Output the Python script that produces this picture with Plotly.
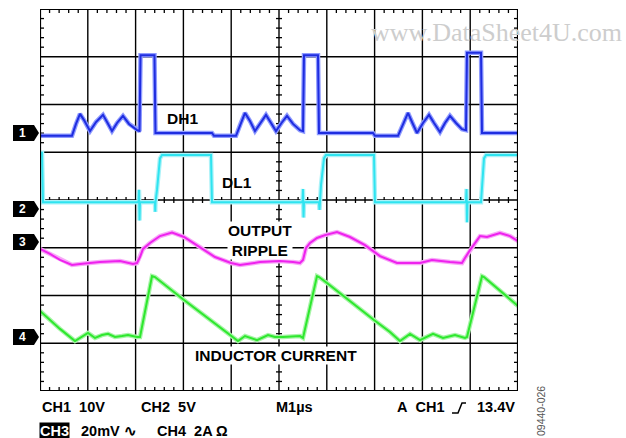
import plotly.graph_objects as go

# ---------------- data (time in µs, 1 µs/div) ----------------
# CH1  DH1 gate drive (V), 10 V/div
dh1_t = [0, 0.669, 0.753, 0.837, 0.921, 1.046, 1.172, 1.318, 1.402, 1.506, 1.611, 1.736, 1.862, 2.029,
         2.082, 2.103, 2.395, 2.416, 3.598, 3.640, 4.100, 4.195, 4.289, 4.393, 4.498, 4.613, 4.728, 4.833,
         4.937, 5.052, 5.167, 5.293, 5.439, 5.502, 5.523, 5.816, 5.837, 6.967, 7.008, 7.490, 7.594, 7.699,
         7.782, 7.887, 8.013, 8.138, 8.243, 8.368, 8.473, 8.577, 8.703, 8.828, 8.912, 8.933, 9.226, 9.247, 10.0]
dh1_v = [-0.6, -0.6, 1.9, 4.0, 2.7, 0.4, 2.3, 3.8, 2.3, 0.4, 2.1, 3.6, 1.9, 0.6,
         0.4, 16.3, 16.3, 0.0, 0.0, -0.6, -0.6, 1.9, 4.2, 2.5, 0.4, 2.1, 3.8, 2.1,
         0.4, 2.1, 3.6, 1.9, 0.6, 0.4, 16.3, 16.3, 0.0, 0.0, -0.6, -0.6, 1.9, 4.2,
         2.3, 0.0, 2.1, 3.8, 2.1, 0.2, 2.1, 3.6, 2.1, 0.8, 0.6, 16.8, 16.8, 0.0, 0.0]

# CH2  DL1 gate drive (V), 5 V/div
dl1_t = [0, 0.042, 0.063, 2.061, 2.071, 2.082, 2.092, 2.406, 2.411, 2.416, 2.448, 2.510, 2.552, 3.577,
         3.598, 5.492, 5.502, 5.513, 5.523, 5.837, 5.847, 5.858, 5.879, 5.941, 5.983, 6.987, 7.008,
         8.912, 8.923, 8.933, 8.943, 9.226, 9.247, 9.289, 9.331, 10.0]
dl1_v = [5.9, 5.9, 0.7, 0.7, 2.0, -1.2, 0.7, 0.7, -0.3, 0.7, 2.0, 5.3, 5.65, 5.65,
         0.7, 0.7, 2.1, -0.9, 0.7, 0.7, -0.1, 0.7, 2.5, 5.3, 5.65, 5.65, 0.7,
         0.7, 2.1, -1.4, 0.7, 0.7, 2.0, 5.3, 5.65, 5.65]

# CH3  output ripple (mV), 20 mV/div, AC coupled
rip_t = [0, 0.209, 0.418, 0.669, 0.837, 1.004, 1.255, 1.674, 1.946, 2.029, 2.092, 2.155, 2.301, 2.510,
         2.762, 3.013, 3.347, 3.661, 3.996, 4.184, 4.603, 5.021, 5.293, 5.439, 5.502, 5.565, 5.649,
         5.795, 5.962, 6.213, 6.485, 6.799, 7.113, 7.469, 7.950, 8.201, 8.577, 8.828, 8.891, 8.996,
         9.205, 9.351, 9.623, 9.833, 10.0]
rip_v = [-2.9, -5.0, -7.5, -9.6, -9.2, -8.8, -8.4, -8.0, -9.2, -8.8, -6.3, -2.9, -0.4, 2.5,
         4.0, 2.1, -2.1, -6.3, -8.8, -9.6, -8.4, -8.0, -8.4, -8.8, -7.5, -2.5, -0.4,
         1.7, 2.9, 4.2, 2.1, -1.3, -5.9, -8.8, -8.8, -7.5, -8.4, -8.8, -6.7, -3.4,
         2.5, 2.1, 3.8, 2.5, 0.4]

# CH4  inductor current (A), 2 A/div
ind_t = [0, 0.209, 0.418, 0.732, 0.837, 1.004, 1.151, 1.297, 1.423, 1.569, 1.715, 1.841, 2.029, 2.092,
         2.343, 2.406, 3.013, 3.996, 4.142, 4.289, 4.393, 4.540, 4.770, 4.916, 5.084, 5.439, 5.502,
         5.795, 5.837, 6.004, 6.987, 7.322, 7.531, 7.741, 7.950, 8.222, 8.431, 8.682, 8.891, 8.933,
         9.247, 9.289, 10.0]
ind_v = [1.09, 0.71, 0.34, -0.17, -0.04, 0.17, -0.04, 0.08, 0.13, 0.0, 0.04, 0.08, 0.0, 0.0,
         2.55, 2.51, 1.55, 0.04, -0.17, 0.04, -0.04, -0.13, 0.08, 0.0, 0.0, 0.04, -0.04,
         2.55, 2.51, 2.26, 0.71, 0.21, -0.17, 0.13, -0.13, 0.13, -0.04, 0.08, -0.04, 0.0,
         2.55, 2.51, 1.30]

channel_names = ["1", "2", "3", "4"]
channel_scale = [10.0, 5.0, 20.0, 2.0]          # units per division
channel_offset = [1.403, -0.188, -0.880, -2.869]  # ground marker position (div from centre)

channel_labels = ["DH1", "DL1", "OUTPUT<br>RIPPLE", "INDUCTOR CURRENT"]
bottom_line1 = ["CH1\u00a0\u00a010V", "CH2\u00a0\u00a05V", "M1µs", "A\u00a0\u00a0CH1", "13.4V"]
bottom_line2 = ["CH3", "20mV \u223f", "CH4\u00a0\u00a02A Ω"]
watermark = "www.DataSheet4U.com"
figure_id = "09440-026"

# ---------------- helpers ----------------
W, H = 626, 438
L, R, T, B = 40, 108, 9, 47
PW, PH = W - L - R, H - T - B


def px(x):
    return (x - L) / PW


def py(y):
    return (H - B - y) / PH


FONT = "Arial, Liberation Sans, sans-serif"
fig = go.Figure()

# minor ticks (oscilloscope graticule)
tx, ty = [], []
lx, ly = 4 / 47.8, 4 / 47.75
cx, cy = 3 / 47.8, 3 / 47.75
for i in range(50):
    x = i * 0.2
    if i % 5 == 0:
        continue
    tx += [x, x, None, x, x, None, x, x, None]
    ty += [4, 4 - ly, None, -4, -4 + ly, None, -cy, cy, None]
for i in range(40):
    y = -4 + i * 0.2
    if i % 5 == 0:
        continue
    tx += [0, lx, None, 10, 10 - lx, None, 5 - cx, 5 + cx, None]
    ty += [y, y, None, y, y, None, y, y, None]
fig.add_trace(go.Scatter(x=tx, y=ty, mode="lines", line=dict(color="black", width=1.3),
                         hoverinfo="skip", showlegend=False))

series = [(dh1_t, dh1_v, "#1f2de0", "#8f9bff"),
          (dl1_t, dl1_v, "#2fe4f0", "#aaf2f8"),
          (rip_t, rip_v, "#ee22ee", "#f8a8f8"),
          (ind_t, ind_v, "#2ee82e", "#a8f4a8")]
for k, (t, v, core, halo) in enumerate(series):
    yy = [channel_offset[k] + val / channel_scale[k] for val in v]
    fig.add_trace(go.Scatter(x=t, y=yy, mode="lines", line=dict(color=halo, width=4.5),
                             hoverinfo="skip", showlegend=False))
    fig.add_trace(go.Scatter(x=t, y=yy, mode="lines", line=dict(color=core, width=2),
                             hoverinfo="skip", showlegend=False))

shapes = []
for i in range(1, 10):
    shapes.append(dict(type="line", xref="x", yref="y", x0=i, x1=i, y0=-4, y1=4,
                       line=dict(color="black", width=1.4), layer="below"))
for j in range(-3, 4):
    shapes.append(dict(type="line", xref="x", yref="y", x0=0, x1=10, y0=j, y1=j,
                       line=dict(color="black", width=1.4), layer="below"))
shapes.append(dict(type="rect", xref="x", yref="y", x0=0, x1=10, y0=-4, y1=4,
                   line=dict(color="black", width=2.2), layer="above"))

# channel ground markers
for k, name in enumerate(channel_names):
    shapes.append(dict(type="path", xref="paper", yref="y", xsizemode="pixel", ysizemode="pixel",
                       xanchor=0, yanchor=channel_offset[k],
                       path="M-27,-8 L-6,-8 L-1,0 L-6,8 L-27,8 Z",
                       fillcolor="black", line=dict(width=0), layer="above"))

# trigger edge glyph
shapes.append(dict(type="path", xref="paper", yref="paper",
                   path=f"M{px(452)},{py(413)} L{px(458)},{py(413)} L{px(462)},{py(403)} L{px(466)},{py(403)}",
                   line=dict(color="black", width=1.5)))

ann = []
for k, name in enumerate(channel_names):
    ann.append(dict(x=px(22), y=channel_offset[k], xref="paper", yref="y", text=f"<b>{name}</b>",
                    showarrow=False, font=dict(family=FONT, size=12, color="white"),
                    xanchor="center", yanchor="middle"))

lbl_pos = [(182, 118, False), (237, 182, False), (260, 240, True), (276, 355, True)]
for k, (lx_, ly_, bg) in enumerate(lbl_pos):
    ann.append(dict(x=px(lx_), y=py(ly_), xref="paper", yref="paper",
                    text=f"<b>{channel_labels[k]}</b>", showarrow=False,
                    font=dict(family=FONT, size=15.5, color="black"),
                    bgcolor="white" if bg else None, borderpad=0,
                    xanchor="center", yanchor="middle"))

# bottom status text
b1 = [(40, "left"), (139, "left"), (274, "left"), (447, "right"), (517, "right")]
for txt, (x, anc) in zip(bottom_line1, b1):
    ann.append(dict(x=px(x), y=py(407), xref="paper", yref="paper", text=f"<b>{txt}</b>",
                    showarrow=False, font=dict(family=FONT, size=14.5, color="black"),
                    xanchor=anc, yanchor="middle"))
ann.append(dict(x=px(54), y=py(431), xref="paper", yref="paper", text=f"<b>{bottom_line2[0]}</b>",
                showarrow=False, font=dict(family=FONT, size=14.5, color="white"), bgcolor="black",
                borderpad=0, xanchor="center", yanchor="middle"))
ann.append(dict(x=px(79), y=py(431), xref="paper", yref="paper", text=f"<b>{bottom_line2[1]}</b>",
                showarrow=False, font=dict(family=FONT, size=14.5, color="black"),
                xanchor="left", yanchor="middle"))
ann.append(dict(x=px(155), y=py(431), xref="paper", yref="paper", text=f"<b>{bottom_line2[2]}</b>",
                showarrow=False, font=dict(family=FONT, size=14.5, color="black"),
                xanchor="left", yanchor="middle"))

ann.append(dict(x=px(541), y=py(411), xref="paper", yref="paper", text=figure_id, textangle=-90,
                showarrow=False, font=dict(family=FONT, size=10.5, color="#555555"),
                xanchor="center", yanchor="middle"))
ann.append(dict(x=px(496), y=py(33), xref="paper", yref="paper", text=watermark,
                showarrow=False, font=dict(family="Liberation Serif, Times New Roman, serif", size=26,
                                           color="#cdcdcd"),
                xanchor="center", yanchor="middle"))

fig.update_layout(
    width=W, height=H, margin=dict(l=L, r=R, t=T, b=B, pad=0),
    paper_bgcolor="white", plot_bgcolor="white",
    xaxis=dict(range=[0, 10], showgrid=False, zeroline=False, showticklabels=False, ticks="",
               showline=False, fixedrange=True),
    yaxis=dict(range=[-4, 4], showgrid=False, zeroline=False, showticklabels=False, ticks="",
               showline=False, fixedrange=True),
    shapes=shapes, annotations=ann, showlegend=False,
)
fig.write_html("out.html", config={"displayModeBar": False},
               post_script="document.body.style.margin='0';document.body.style.overflow='hidden';")
